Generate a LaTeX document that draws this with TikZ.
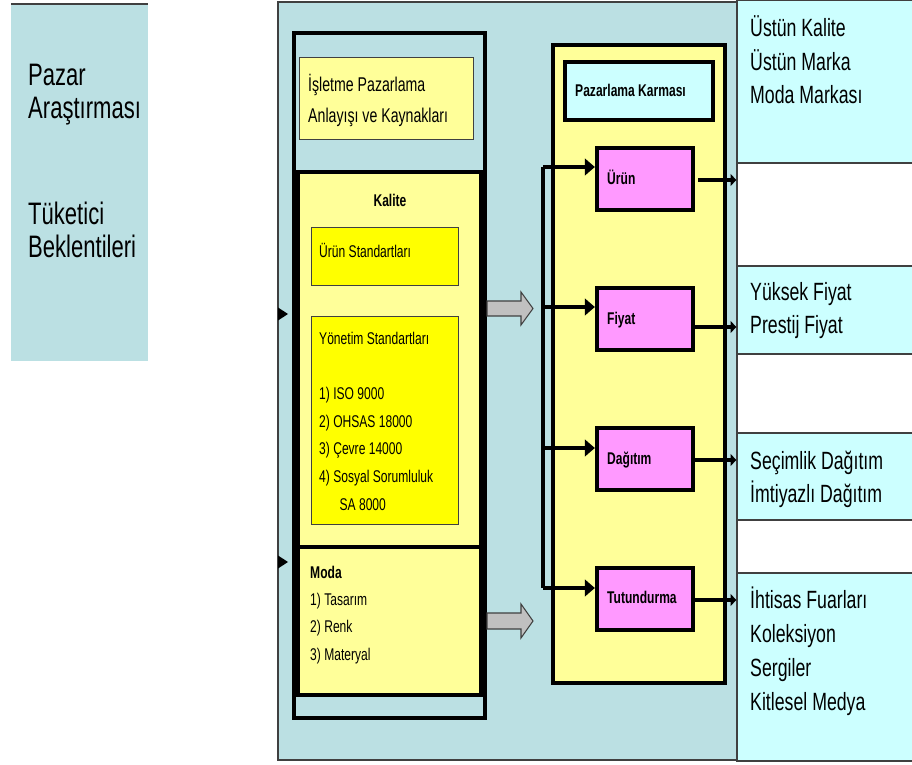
\documentclass[tikz,border=0pt]{standalone}
\usepackage{fontspec}
\setmainfont{Liberation Sans}[FakeStretch=0.71]
\usetikzlibrary{fit,arrows.meta}
\definecolor{panelblue}{RGB}{187,224,227}
\definecolor{softyellow}{RGB}{255,255,153}
\definecolor{hotyellow}{RGB}{255,255,0}
\definecolor{mixpink}{RGB}{255,153,255}
\definecolor{paleaqua}{RGB}{204,255,255}
\definecolor{edgegray}{RGB}{64,64,64}
\definecolor{arrowgray}{RGB}{192,192,192}

\begin{document}
\begin{tikzpicture}[x=0.03cm, y=-0.03cm,
  heavybox/.style={draw=black, line width=3.6pt, inner sep=0pt},
  softbox/.style={draw=edgegray, line width=0.8pt, inner sep=0pt},
  notebox/.style={softbox, fill=paleaqua, line width=1pt},
  mixbox/.style={heavybox, fill=mixpink},
  bigtxt/.style={inner sep=0pt, anchor=base west, align=left, font=\fontsize{26.5}{28.2}\selectfont},
  notetxt/.style={inner sep=0pt, anchor=base west, align=left, font=\fontsize{21.3}{29}\selectfont},
  midtxt/.style={inner sep=0pt, anchor=base west, align=left, font=\fontsize{17}{26.5}\selectfont},
  smalltxt/.style={inner sep=0pt, anchor=base west, align=left, font=\fontsize{14.5}{23.5}\selectfont},
  boldtxt/.style={inner sep=0pt, anchor=base west, font=\fontsize{14.5}{17}\selectfont\bfseries},
  feed/.style={line width=3.4pt, -{Triangle[length=8.5pt, width=14pt]}},
  outflow/.style={line width=3.4pt, -{Triangle[length=5pt, width=10pt]}},
  block/.style={fill=arrowgray, draw=edgegray, line width=0.9pt}]
  \useasboundingbox (0,0) rectangle (912,765);

  % side panel (text nodes sit on the baseline of their last line)
  \fill[panelblue] (11,4) rectangle (148,361);
  \draw[edgegray, line width=1.2pt] (11,4) -- (148,4);
  \node[bigtxt] (pazar) at (28,119) {Pazar\\Araştırması};
  \node[bigtxt] (tuketici) at (28,258) {Tüketici\\Beklentileri};

  % main panel
  \node[softbox, fill=panelblue, line width=1pt, fit={(278,2) (737,760)}] (stage) {};

  % left column
  \node[heavybox, fill=panelblue, fit={(294,33) (485,718)}] (frame) {};
  \node[softbox, fill=softyellow, fit={(299,57) (473,139)}] (isletme) {};
  \node[midtxt] (isletmetxt) at (308,123) {İşletme Pazarlama\\Anlayışı ve Kaynakları};
  \node[heavybox, fill=softyellow, fit={(298,172) (481,547)}] (kalite) {};
  \node[heavybox, fill=softyellow, fit={(298,547) (481,695)}] (moda) {};
  \node[boldtxt, anchor=base] (kalitetxt) at (390,207) {Kalite};
  \node[softbox, fill=hotyellow, fit={(311,227) (458,285)}] (urunstd) {};
  \node[smalltxt] (urunstdtxt) at (319,258) {Ürün Standartları};
  \node[softbox, fill=hotyellow, fit={(311,316) (458,524)}] (yonetim) {};
  \node[smalltxt] (yonetimtxt) at (319,510) {Yönetim Standartları\\ \\1) ISO 9000\\2) OHSAS 18000\\3) Çevre 14000\\4) Sosyal Sorumluluk\\\hspace*{1.2em}SA 8000};
  \node[boldtxt] (modatxt) at (310,578) {Moda};
  \node[smalltxt, font=\fontsize{14.5}{23.3}\selectfont] (modalist) at (310,660) {1) Tasarım\\2) Renk\\3) Materyal};

  % small heads on the panel edge
  \fill (278,307.5) -- (288,314) -- (278,320.5) -- cycle;
  \fill (278,555.5) -- (288,562) -- (278,568.5) -- cycle;

  % grey block arrows
  \draw[block] (487,301) -- (521,301) -- (521,292) -- (533,308.5) -- (521,325) -- (521,316) -- (487,316) -- cycle;
  \draw[block] (487,613) -- (521,613) -- (521,604) -- (533,621) -- (521,638) -- (521,629) -- (487,629) -- cycle;

  % marketing mix
  \node[heavybox, fill=softyellow, fit={(553,45) (725,683)}] (karma) {};
  \node[heavybox, fill=paleaqua, fit={(565,62) (713,120)}] (karmahead) {};
  \node[boldtxt] (karmatxt) at (575,97) {Pazarlama Karması};
  \node[mixbox, fit={(597,148) (693,210)}] (urun) {};
  \node[mixbox, fit={(597,288) (693,350)}] (fiyat) {};
  \node[mixbox, fit={(597,428) (693,490)}] (dagitim) {};
  \node[mixbox, fit={(597,568) (693,630)}] (tutundurma) {};
  \node[boldtxt] (uruntxt) at (607,185) {Ürün};
  \node[boldtxt] (fiyattxt) at (607,325) {Fiyat};
  \node[boldtxt] (dagitimtxt) at (607,465) {Dağıtım};
  \node[boldtxt] (tutundurmatxt) at (607,603) {Tutundurma};

  % bus
  \coordinate (b1) at (543,167);
  \coordinate (b2) at (543,307);
  \coordinate (b3) at (543,448);
  \coordinate (b4) at (543,588);
  \draw[line width=3.4pt] (b1) -- (b4);
  \draw[feed] (b1) -- (b1 -| urun.west);
  \draw[feed] (b2) -- (b2 -| fiyat.west);
  \draw[feed] (b3) -- (b3 -| dagitim.west);
  \draw[feed] (b4) -- (b4 -| tutundurma.west);

  % results
  \node[notebox, fit={(737,0) (914,163)}] (res1) {};
  \node[notebox, fit={(737,266) (914,354)}] (res2) {};
  \node[notebox, fit={(737,433) (914,520)}] (res3) {};
  \node[notebox, fit={(737,573) (914,761)}] (res4) {};
  \node[notetxt] (res1txt) at (750,104) {Üstün Kalite\\Üstün Marka\\Moda Markası};
  \node[notetxt] (res2txt) at (750,334) {Yüksek Fiyat\\Prestij Fiyat};
  \node[notetxt] (res3txt) at (750,503) {Seçimlik Dağıtım\\İmtiyazlı Dağıtım};
  \node[notetxt] (res4txt) at (750,710) {İhtisas Fuarları\\Koleksiyon\\Sergiler\\Kitlesel Medya};

  \coordinate (o1) at (698,180);
  \coordinate (o2) at (693,327);
  \coordinate (o3) at (693,460);
  \coordinate (o4) at (693,600);
  \draw[outflow] (o1) -- (o1 -| res1.west);
  \draw[outflow] (o2) -- (o2 -| res2.west);
  \draw[outflow] (o3) -- (o3 -| res3.west);
  \draw[outflow] (o4) -- (o4 -| res4.west);
\end{tikzpicture}
\end{document}
